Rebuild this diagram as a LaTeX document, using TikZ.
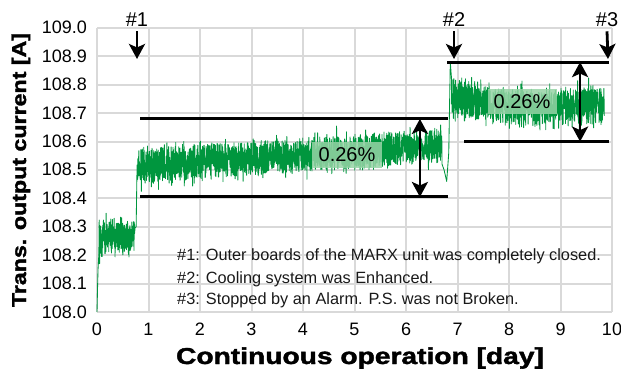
\documentclass[tikz,border=0pt]{standalone}
\usepackage{graphicx}
\usepackage{fontspec}
\setmainfont{Liberation Sans}
\newfontfamily\heavyfont{Liberation Sans}[BoldFeatures={FakeBold=1.6}]
\usetikzlibrary{arrows.meta}
\definecolor{trace}{RGB}{0,150,62}
\definecolor{gridgray}{RGB}{217,217,217}
\definecolor{boxgreen}{RGB}{150,212,166}
\definecolor{legendtext}{RGB}{25,25,25}
\tikzset{
  gridline/.style={gridgray, line width=2pt},
  ticklab/.style={font=\fontsize{18}{20}\selectfont, inner sep=0pt},
  datatrace/.style={trace, line width=0.85pt, line join=round},
  levelline/.style={black, line width=3pt},
  spanarrow/.style={black, line width=2.8pt, {Stealth[length=15pt,width=16pt,inset=3.5pt]}-{Stealth[length=15pt,width=16pt,inset=3.5pt]}},
  eventarrow/.style={black, line width=2.8pt, -{Stealth[length=15pt,width=16pt,inset=3.5pt]}},
  eventlab/.style={font=\fontsize{20}{22}\selectfont, inner sep=0pt},
  pctbox/.style={fill=boxgreen, fill opacity=0.85, text opacity=1, minimum width=70pt, minimum height=26pt, inner sep=0pt, font=\fontsize{20}{22}\selectfont},
  legendline/.style={anchor=base west, inner sep=0pt, text=legendtext, font=\fontsize{16.3}{18}\selectfont},
  axistitle/.style={inner sep=0pt, font=\fontsize{23}{25}\heavyfont\bfseries},
  declare function={spk(\r)=\r*\r*\r*\r*\r;}
}
\begin{document}
\begin{tikzpicture}[x=1pt,y=1pt]
\useasboundingbox (0,0) rectangle (621,370);
\pgfmathsetseed{4711}
% data frame: day on x, current minus 108 A on y
\begin{scope}[shift={(97,58)}, x=51.5pt, y=284pt]
  \foreach \d in {0,...,10} \draw[gridline] (\d,0) -- (\d,1);
  \foreach \k in {0,...,10} \draw[gridline] (0,\k/10) -- (10,\k/10);
  \foreach \d in {0,...,10}
    \node[ticklab, anchor=base, yshift=-23pt] (xt\d) at (\d,0) {\d};
  \foreach \k/\lab in {0/108.0,1/108.1,2/108.2,3/108.3,4/108.4,5/108.5,6/108.6,7/108.7,8/108.8,9/108.9,10/109.0}
    \node[ticklab, anchor=base east, xshift=-10pt, yshift=-6pt] (yt\k) at (0,\k/10) {\lab};

  % measured current
  \draw[datatrace] (0,0) -- (0.01,0.08) -- (0.02,0.15) -- (0.035,0.2)
    -- plot[domain=0.04:0.74, samples=280] (\x, {0.26+0.01*(\x-0.04)+0.055*rand+0.04*spk(rand)})
    -- (0.76,0.3) -- (0.775,0.48)
    -- plot[domain=0.78:6.70, samples=1800] (\x, {0.515+0.012*(\x-0.78)+0.06*rand+0.035*spk(rand)})
    -- (6.74,0.5) -- (6.79,0.46) -- (6.83,0.56) -- (6.86,0.88)
    -- plot[domain=6.88:9.85, samples=950] (\x, {0.705+0.06*exp(-(\x-6.9)/0.9)+0.02*max(\x-8.5,0)/1.3+0.062*rand+0.04*spk(rand)});

  % reference levels
  \coordinate (a1l) at (0.835,0.68);  \coordinate (a1r) at (6.82,0.68);
  \coordinate (b1l) at (0.835,0.405); \coordinate (b1r) at (6.82,0.405);
  \coordinate (a2l) at (6.80,0.88);   \coordinate (a2r) at (9.94,0.88);
  \coordinate (b2l) at (7.13,0.60);   \coordinate (b2r) at (9.94,0.60);
  \coordinate (s1t) at (6.27,0.68);   \coordinate (s1b) at (6.27,0.405);
  \coordinate (s2t) at (9.38,0.88);   \coordinate (s2b) at (9.38,0.60);
\end{scope}

\draw[levelline] (a1l) -- (a1r);
\draw[levelline] (b1l) -- (b1r);
\draw[levelline] (a2l) -- (a2r);
\draw[levelline] (b2l) -- (b2r);
\draw[spanarrow] (s1t) -- (s1b);
\draw[spanarrow] (s2t) -- (s2b);

\node[pctbox] (p1) at (347,215) {0.26\%};
\node[pctbox, minimum width=69pt, minimum height=25pt] (p2) at (522,268) {0.26\%};

% events
\node[eventlab] (e1) at (137,350) {\#1};
\node[eventlab] (e2) at (454,350) {\#2};
\node[eventlab] (e3) at (607,350) {\#3};
\coordinate (e1t) at (137,311);
\coordinate (e2t) at (454,311);
\coordinate (e3t) at (608,311);
\draw[eventarrow] (e1.south) ++(0,-4pt) coordinate (e1s) (e1s) -- (e1t);
\draw[eventarrow] (e2.south) ++(0,-4pt) coordinate (e2s) (e2s) -- (e2t);
\draw[eventarrow] (e3.south) ++(0,-4pt) coordinate (e3s) (e3s) -- (e3t);

% notes
\node[legendline] (n1) at (177,110) {\#1: Outer boards of the MARX unit was completely closed.};
\node[legendline] (n2) at (177,87) {\#2: Cooling system was Enhanced.};
\node[legendline] (n3) at (177,66) {\#3: Stopped by an Alarm. P.S. was not Broken.};

% axis titles
\node[axistitle, anchor=base] (xtitle) at (360,6) {\scalebox{1.225}[1]{Continuous operation [day]}};
\node[axistitle, font=\fontsize{20}{22}\heavyfont\bfseries, anchor=base, rotate=90] (ytitle) at (26,200) {\scalebox{1.16}[1]{Trans. output current [A]}};
\end{tikzpicture}
\end{document}
